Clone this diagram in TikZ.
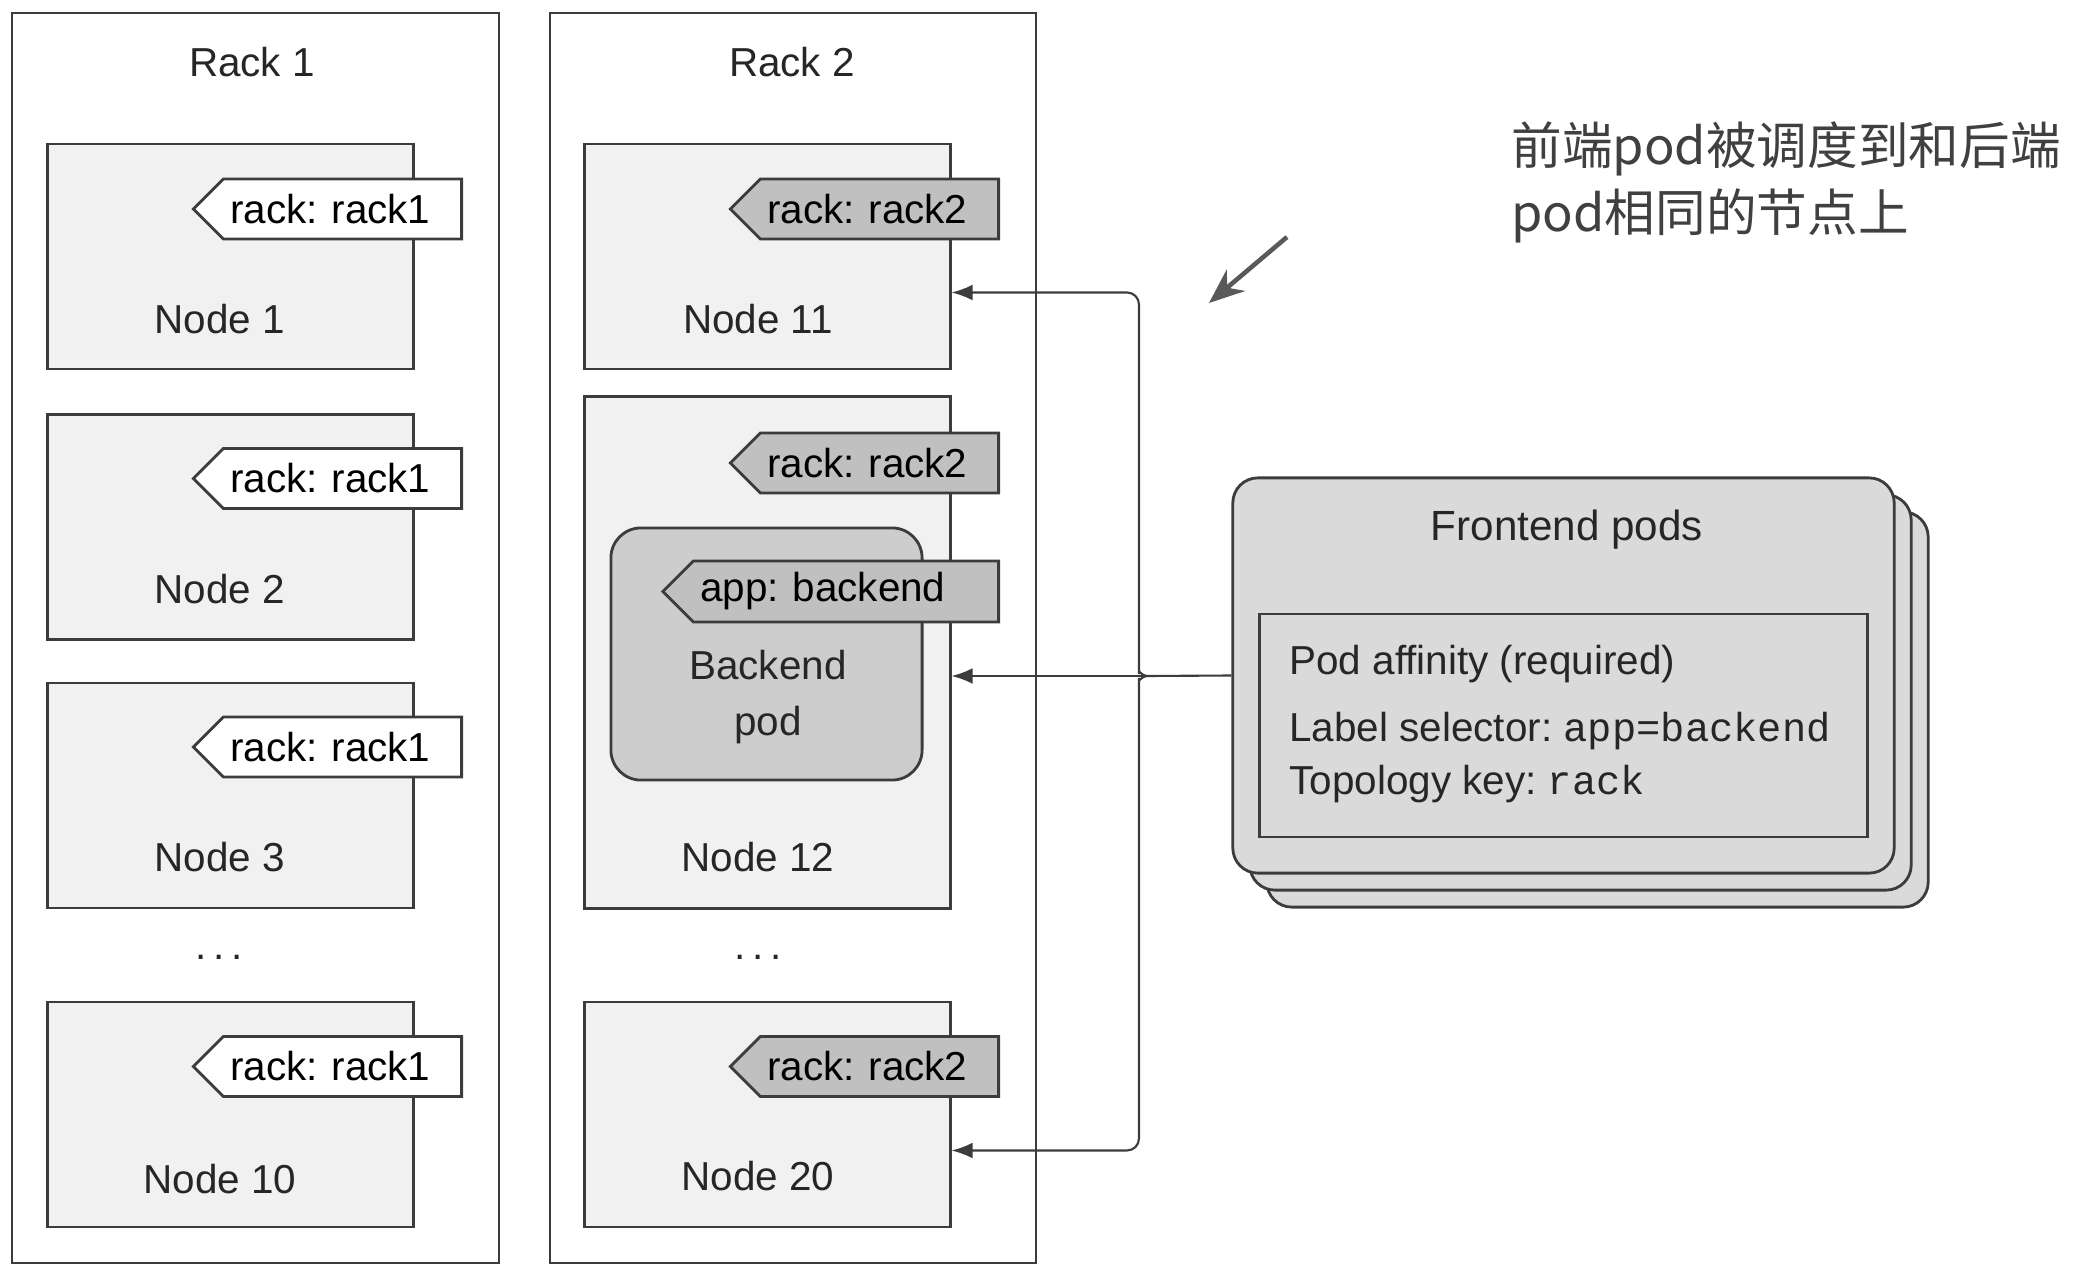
\documentclass[tikz,border=0pt]{standalone}
\usepackage{fontspec}
\setmainfont{Liberation Sans}
\setmonofont{Liberation Mono}
\newfontfamily\cjkfont{Noto Sans CJK SC}
\usetikzlibrary{arrows.meta,positioning,shapes.symbols,calc}
\definecolor{edge}{RGB}{60,60,60}
\definecolor{hostfill}{RGB}{241,241,241}
\definecolor{tagfill}{RGB}{192,192,192}
\definecolor{podfill}{RGB}{205,205,205}
\definecolor{frontfill}{RGB}{218,218,218}
\frenchspacing

\begin{document}
\begin{tikzpicture}[x=0.01cm, y=-0.01cm,
  rack/.style={draw=edge, semithick, minimum width=4.86cm, minimum height=12.5cm},
  host/.style={draw=edge, thick, fill=hostfill, minimum width=3.65cm, minimum height=2.25cm},
  tag/.style={signal, signal to=west, signal pointer angle=90, draw=edge, thick,
    text width=2.24cm, align=left, minimum height=0.6cm, anchor=east, inner xsep=0.07cm,
    font=\fontsize{11.5}{14}\selectfont},
  txt/.style={font=\fontsize{11.5}{14}\selectfont, text=black!85},
  fepod/.style={draw=edge, thick, fill=frontfill, rounded corners=0.25cm, minimum width=6.61cm, minimum height=3.95cm},
  arr/.style={-{Latex[length=6pt,width=4.5pt]}, edge, semithick, rounded corners=0.12cm},
]
\useasboundingbox (0,0) rectangle (2084,1276);

% racks
\node[rack] (rack1) at (255.5,638) {};
\node[rack] (rack2) at (793,638) {};
\node[txt] (rack1t) at (252,62) {Rack 1};
\node[txt] (rack2t) at (792,62) {Rack 2};

% rack 1 hosts
\node[host] (n1) at (230.5,256.5) {};
\node[host] (n2) at (230.5,527) {};
\node[host] (n3) at (230.5,795.5) {};
\node[host] (n10) at (230.5,1114.5) {};
\node[tag, fill=white] (t1) at (463,209) {rack: rack1};
\node[tag, fill=white] (t2) at (463,478.5) {rack: rack1};
\node[tag, fill=white] (t3) at (463,747) {rack: rack1};
\node[tag, fill=white] (t10) at (463,1066.5) {rack: rack1};
\node[txt] (l1) at (220,319) {Node 1};
\node[txt] (l2) at (220,589) {Node 2};
\node[txt] (l3) at (220,857) {Node 3};
\node[txt] (l10) at (220,1179) {Node 10};
\node[txt] (dots1) at (219,957) {.\kern2pt.\kern2pt.};

% rack 2 hosts
\node[host] (n11) at (767.5,256.5) {};
\node[host, minimum height=5.11cm] (n12) at (767.5,652.5) {};
\node[host] (n20) at (767.5,1114.5) {};
\node[tag, fill=tagfill] (t11) at (1000,209) {rack: rack2};
\node[tag, fill=tagfill] (t12) at (1000,463) {rack: rack2};
\node[tag, fill=tagfill] (t20) at (1000,1066.5) {rack: rack2};
\node[draw=edge, thick, fill=podfill, rounded corners=0.3cm, minimum width=3.11cm, minimum height=2.52cm] (bpod) at (766.5,654) {};
\node[tag, fill=tagfill, text width=2.91cm] (tapp) at (1000,591.5) {app: backend};
\node[txt, align=center] (bpodt) at (768,697) {Backend\\[2pt]pod};
\node[txt] (l11) at (758,319) {Node 11};
\node[txt] (l12) at (758,857) {Node 12};
\node[txt] (l20) at (758,1176) {Node 20};
\node[txt] (dots2) at (758,957) {.\kern2pt.\kern2pt.};

% frontend pods
\node[fepod] (fe2) at (1597.5,709.5) {};
\node[fepod] (fe1) at (1580.5,692.5) {};
\node[fepod] (fe) at (1563.5,675.5) {};
\node[draw=edge, thick, minimum width=6.07cm, minimum height=2.23cm] (aff) at (1563.5,725.5) {};
\node[txt, font=\fontsize{12}{14}\selectfont] (fet) at (1567,530) {Frontend pods};
\node[txt, anchor=west] (aff1) at (1277,664) {Pod affinity (required)};
\node[txt, anchor=west] (aff2) at (1277,731) {Label selector: \texttt{app=backend}};
\node[txt, anchor=west] (aff3) at (1277,784) {Topology key: \texttt{rack}};

% affinity links
\coordinate (jn) at (1147,676);
\draw[edge, semithick] (fe.west) -- (jn);
\draw[arr] (jn) to[out=180,in=-90] (1139,662) |- ($(n11.east)+(0,36)$);
\draw[arr] (jn) -- (n12.east |- jn);
\draw[arr] (jn) to[out=180,in=90] (1139,690) |- ($(n20.east)+(0,36)$);

% note
\node[anchor=west, align=left, text=black!75, font=\cjkfont\fontsize{14.4}{19}\selectfont] (note) at (1499,182)
  {前端pod被调度到和后端\\pod相同的节点上};
\coordinate (notefrom) at (1287,237);
\coordinate (noteto) at (1209,303);
\draw[-{Stealth[length=10pt,width=8pt]}, line width=1.3pt, black!65] (notefrom) -- (noteto);
\end{tikzpicture}
\end{document}
